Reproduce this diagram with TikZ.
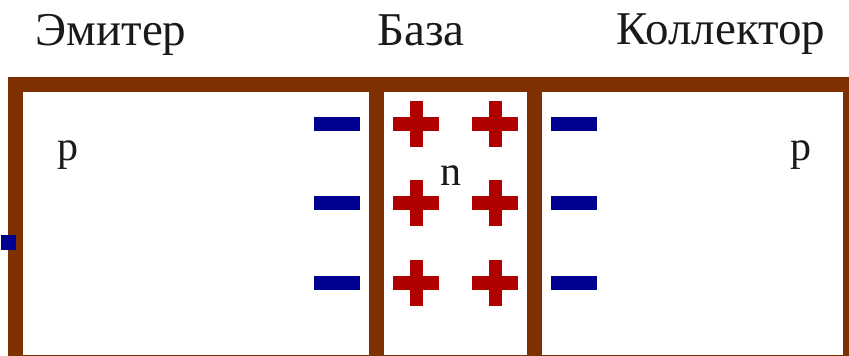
\documentclass[tikz,border=0pt]{standalone}
\usepackage{fontspec}
\setmainfont{Liberation Serif}
\usetikzlibrary{positioning}
\definecolor{wall}{HTML}{7F3000}
\definecolor{negcol}{HTML}{000090}
\definecolor{poscol}{HTML}{B00000}
\definecolor{ink}{HTML}{1A1A1A}
\tikzset{
  wallline/.style={draw=wall,line width=15pt},
  title/.style={anchor=base,font=\fontsize{47}{56}\selectfont,text=ink,inner sep=0pt},
  kind/.style={anchor=base,font=\fontsize{42}{50}\selectfont,text=ink,inner sep=0pt},
  minus/.style={rectangle,fill=negcol,minimum width=46pt,minimum height=14pt,inner sep=0pt},
  plus/.style={rectangle,minimum size=46pt,inner sep=0pt,
    path picture={
      \fill[fill=poscol] ([xshift=-6.5pt]path picture bounding box.north) rectangle ([xshift=6.5pt]path picture bounding box.south);
      \fill[fill=poscol] ([yshift=7pt]path picture bounding box.west) rectangle ([yshift=-7pt]path picture bounding box.east);
    }},
  lead/.style={rectangle,fill=negcol,minimum size=15pt,inner sep=0pt},
}
\begin{document}
\begin{tikzpicture}[x=1pt,y=-1pt]
  \useasboundingbox (0,0) rectangle (849,356);
  % frame and the two junction walls
  \begin{scope}
    \clip (0,0) rectangle (849,356);
    \draw[wallline] (15,84.5) rectangle (850,362);
    \draw[wallline] (376,84.5) -- (376,362);
    \draw[wallline] (534.5,84.5) -- (534.5,362);
  \end{scope}
  % region titles
  \node[title] (emit) at (111,45) {Эмитер};
  \node[title] (base) at (421,45) {База};
  \node[title] (coll) at (721,44) {Коллектор};
  % conductivity types
  \node[kind] (pE) at (68,160) {p};
  \node[kind] (nB) at (451,185) {n};
  \node[kind] (pC) at (801,160) {p};
  % charges at the junctions
  \foreach \i/\y in {1/123.5,2/203,3/282.5} {
    \node[minus] (mE\i) at (337,\y) {};
    \node[plus] (qA\i) at (416,\y) {};
    \node[plus] (qB\i) at (495,\y) {};
    \node[minus] (mC\i) at (574,\y) {};
  }
  \node[lead] (tip) at (8.5,242.5) {};
\end{tikzpicture}
\end{document}
